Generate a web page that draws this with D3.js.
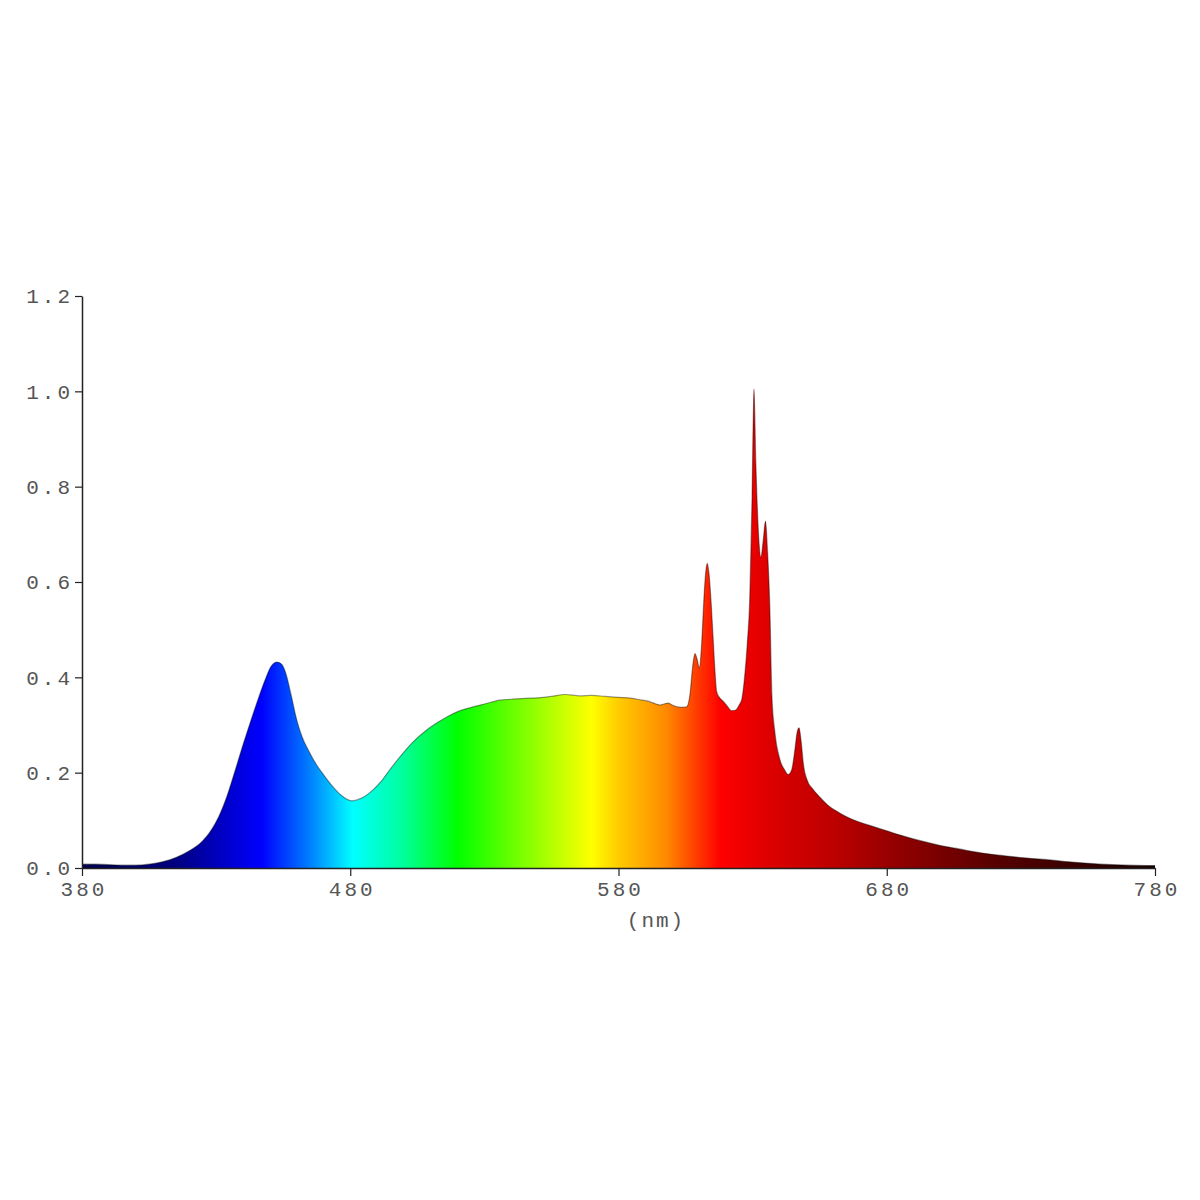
<!DOCTYPE html>
<html>
<head>
<meta charset="utf-8">
<script src="https://cdn.jsdelivr.net/npm/d3@7"></script>
<style>
  html, body { margin: 0; padding: 0; background: #ffffff; }
  svg { display: block; }
</style>
</head>
<body>
<svg id="chart" width="1200" height="1200"></svg>
<script>
// ---- data ----
const wavelengths = [
  380, 385, 390, 395, 400, 405, 410, 415, 420, 425, 428, 431, 434, 437, 440, 443, 446, 448.5, 450.5, 452.7, 454.5, 456, 458, 460, 462, 464.5, 467.6, 470, 473.6, 476.5, 478.5, 480.7, 484, 488.5, 492, 495, 498.5, 503, 508.6, 512.5, 517, 520, 524.6, 530, 535.8, 540, 545, 550, 555, 560, 565.6, 570, 575, 580, 585, 588, 591, 594, 595.5, 597, 598.5, 600, 602, 603.5, 605.4, 606.7, 607.6, 608.5, 609.3, 610.1, 611, 611.8, 612.5, 613.1, 613.7, 614.5, 615.3, 616, 616.6, 617.6, 619, 620.5, 622.2, 623.5, 625, 626, 627, 628, 628.9, 629.8, 630.5, 631.2, 632.2, 633.1, 634, 634.8, 635.6, 636.4, 637.2, 638.2, 640.2, 642, 643.2, 644.5, 645.8, 646.6, 647.3, 648.1, 649, 650.3, 652.5, 655, 658, 662.6, 666, 670, 675, 680, 685, 690, 695, 700, 707, 715, 722, 730, 741, 750, 760, 770, 780
];
const intensity = [
  0.008, 0.008, 0.007, 0.006, 0.006, 0.008, 0.013, 0.022, 0.036, 0.057, 0.078, 0.108, 0.150, 0.203, 0.258, 0.310, 0.360, 0.398, 0.423, 0.432, 0.427, 0.408, 0.362, 0.312, 0.276, 0.246, 0.215, 0.196, 0.170, 0.153, 0.145, 0.141, 0.146, 0.164, 0.185, 0.208, 0.233, 0.262, 0.290, 0.305, 0.320, 0.328, 0.336, 0.344, 0.352, 0.354, 0.356, 0.357, 0.360, 0.364, 0.361, 0.362, 0.360, 0.358, 0.356, 0.353, 0.350, 0.344, 0.342, 0.344, 0.346, 0.342, 0.338, 0.337, 0.338, 0.367, 0.420, 0.450, 0.438, 0.420, 0.470, 0.560, 0.620, 0.639, 0.620, 0.560, 0.480, 0.410, 0.370, 0.358, 0.350, 0.340, 0.330, 0.331, 0.342, 0.355, 0.400, 0.470, 0.560, 0.780, 1.005, 0.850, 0.700, 0.652, 0.690, 0.728, 0.660, 0.550, 0.360, 0.290, 0.227, 0.205, 0.196, 0.205, 0.250, 0.285, 0.294, 0.265, 0.215, 0.185, 0.165, 0.149, 0.132, 0.115, 0.105, 0.096, 0.087, 0.078, 0.069, 0.061, 0.054, 0.047, 0.040, 0.032, 0.027, 0.022, 0.017, 0.012, 0.008, 0.006, 0.005
];
const xTicks = [380, 480, 580, 680, 780];
const yTicks = [0.0, 0.2, 0.4, 0.6, 0.8, 1.0, 1.2];
const xLabel = "(nm)";

// colour stops of the spectrum fill (wavelength, colour)
const stopWavelengths = [380, 415, 447, 465, 481, 500, 520, 545, 570, 580, 598, 618, 636, 661, 680, 720, 780];
const stopColors = ["#00004a", "#000080", "#0000ff", "#0080ff", "#00ffff", "#00ff99", "#00ff00", "#80ff00", "#ffff00", "#ffcc00", "#ff8800", "#ff0000", "#dd0000", "#bb0000", "#990000", "#580000", "#180000"];

// ---- layout ----
const mLeft = 82, mRight = 1155, mTop = 296, mBottom = 868;
const svg = d3.select("#chart");

const x = d3.scaleLinear().domain([380, 780]).range([mLeft, mRight]);
const y = d3.scaleLinear().domain([0, 1.2]).range([mBottom, mTop]);

const data = wavelengths.map((w, i) => ({ w, v: intensity[i] }));

// gradient
const defs = svg.append("defs");
const grad = defs.append("linearGradient")
  .attr("id", "spec")
  .attr("gradientUnits", "userSpaceOnUse")
  .attr("x1", x(380)).attr("x2", x(780))
  .attr("y1", 0).attr("y2", 0);
stopWavelengths.forEach((w, i) => {
  grad.append("stop")
    .attr("offset", (w - 380) / 400)
    .attr("stop-color", stopColors[i]);
});

const area = d3.area()
  .x(d => x(d.w))
  .y0(y(0))
  .y1(d => y(d.v))
  .curve(d3.curveMonotoneX);

const line = d3.line()
  .x(d => x(d.w))
  .y(d => y(d.v))
  .curve(d3.curveMonotoneX);

svg.append("path")
  .datum(data)
  .attr("d", area)
  .attr("fill", "url(#spec)");

svg.append("path")
  .datum(data)
  .attr("d", line)
  .attr("fill", "none")
  .attr("stroke", "rgba(0,0,0,0.4)")
  .attr("stroke-width", 1.2);

// axes
const fontFam = "'Liberation Mono', 'Courier New', monospace";

const yAxis = svg.append("g")
  .attr("transform", `translate(${mLeft},0)`)
  .call(d3.axisLeft(y).tickValues(yTicks).tickFormat(d3.format(".1f")).tickSize(7).tickPadding(2).tickSizeOuter(0));

const xAxis = svg.append("g")
  .attr("transform", `translate(0,${mBottom})`)
  .call(d3.axisBottom(x).tickValues(xTicks).tickFormat(d3.format("d")).tickSize(8).tickPadding(5).tickSizeOuter(0));

[yAxis, xAxis].forEach(g => {
  g.select(".domain").attr("stroke", "#222").attr("stroke-width", 1.5);
  g.selectAll(".tick line").attr("stroke", "#222").attr("stroke-width", 1.2);
  g.selectAll(".tick text")
    .attr("fill", "#555")
    .style("font-family", fontFam)
    .style("font-size", "21px")
    .style("letter-spacing", "3px");
});
// compensate trailing letter-spacing for centred labels
xAxis.selectAll(".tick text").attr("dx", "1.5px");

svg.append("text")
  .attr("x", 656)
  .attr("y", 927)
  .attr("text-anchor", "middle")
  .attr("fill", "#555")
  .style("font-family", fontFam)
  .style("font-size", "21px")
  .style("letter-spacing", "2px")
  .text(xLabel);
</script>
</body>
</html>
